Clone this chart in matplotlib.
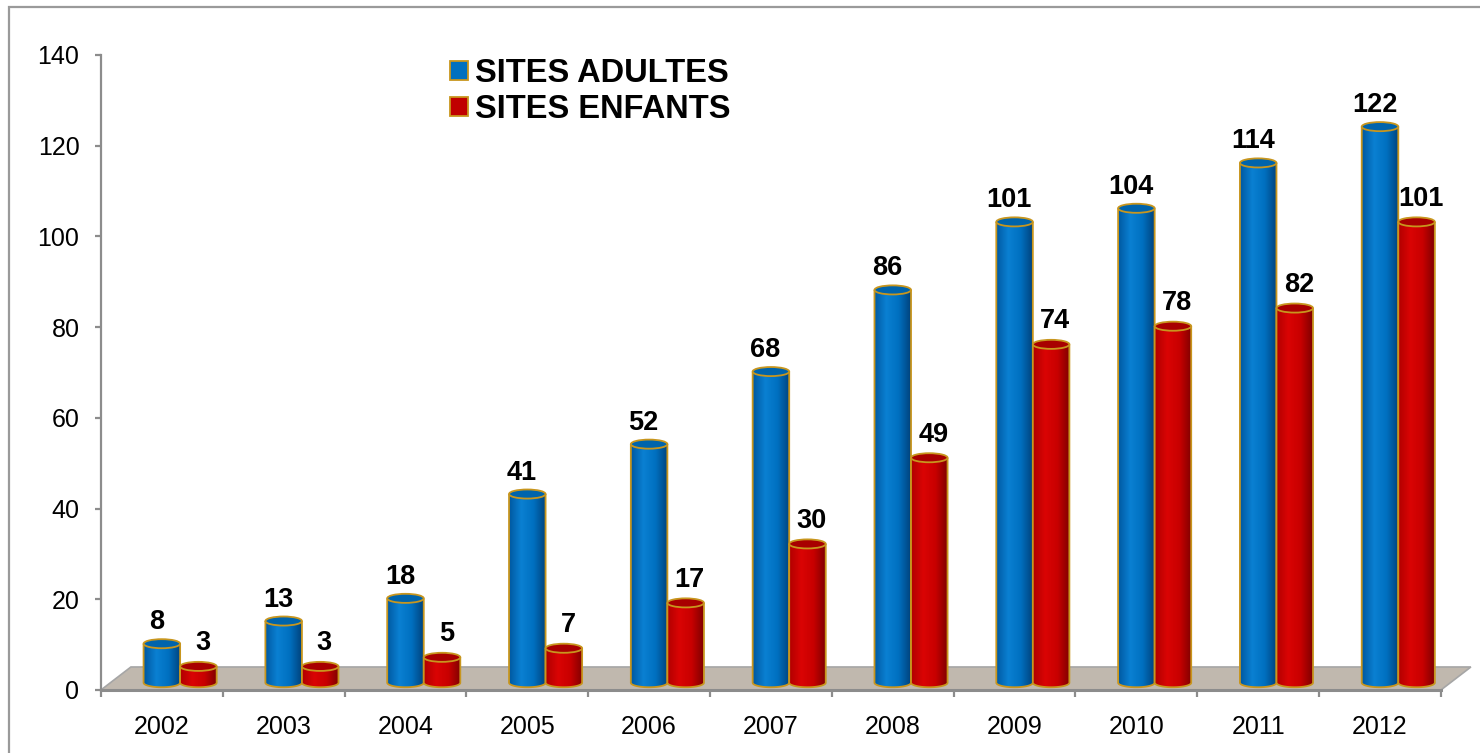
import numpy as np
import matplotlib
matplotlib.use('Agg')
import matplotlib.pyplot as plt
from matplotlib.patches import Ellipse, Polygon, PathPatch, Rectangle, Patch
from matplotlib.path import Path
from matplotlib.colors import LinearSegmentedColormap

plt.rcParams['font.family'] = ['Liberation Sans', 'DejaVu Sans']

years = ['2002', '2003', '2004', '2005', '2006', '2007', '2008', '2009', '2010', '2011', '2012']
adultes = [8, 13, 18, 41, 52, 68, 86, 101, 104, 114, 122]
enfants = [3, 3, 5, 7, 17, 30, 49, 74, 78, 82, 101]

gold = '#C8961E'
grey = '#8C8C8C'
blue_cm = LinearSegmentedColormap.from_list('bl', ['#0058A0', '#0A80D2', '#0070C0', '#00427C'])
red_cm = LinearSegmentedColormap.from_list('rd', ['#B00000', '#DA0404', '#C80000', '#7E0000'])

fig = plt.figure(figsize=(14.8, 7.53), dpi=100)
ax = fig.add_axes([0.0682, 0.0837, 0.9054, 0.8433])

# outer chart frame
fig.patches.append(Rectangle((0.0061, -0.1), 1.2, 1.0907, transform=fig.transFigure,
                             fill=False, edgecolor='#9A9A9A', lw=1.6))

# floor in pseudo 3d
dx, dy = 0.246, 5.07
floor = Polygon([(-0.5, 0), (10.5, 0), (10.5 + dx, dy), (-0.5 + dx, dy)], closed=True,
                facecolor='#C0B8AE', edgecolor='#A6A6A6', lw=1.2, clip_on=False, zorder=1)
ax.add_patch(floor)

w, eh = 0.3, 2.0
base = 1.6


def cylinder(xc, val, cmap, top_color, z):
    top = val + 2.2
    t = np.linspace(np.pi, 2 * np.pi, 60)
    arc = list(zip(xc + w / 2 * np.cos(t), base + eh / 2 * np.sin(t)))
    verts = [(xc - w / 2, top)] + arc + [(xc + w / 2, top)]
    body = Path(verts + [verts[0]], [Path.MOVETO] + [Path.LINETO] * (len(verts) - 1) + [Path.CLOSEPOLY])
    clip = PathPatch(body, transform=ax.transData)
    grad = np.linspace(0, 1, 256).reshape(1, -1)
    im = ax.imshow(grad, cmap=cmap, extent=[xc - w / 2, xc + w / 2, base - eh / 2, top],
                   aspect='auto', zorder=z, interpolation='bilinear')
    im.set_clip_path(clip)
    ax.add_patch(PathPatch(Path(verts), fill=False, edgecolor=gold, lw=1.3, zorder=z + 0.1))
    ax.add_patch(Ellipse((xc, top), w, eh, facecolor=top_color, edgecolor=gold, lw=1.3,
                         zorder=z + 0.2))
    return top


for i in range(len(years)):
    z = 3 + i
    t1 = cylinder(i, adultes[i], blue_cm, '#0064AC', z)
    ax.annotate(str(adultes[i]), (i, t1), xytext=(-4, 15.5), textcoords='offset points',
                ha='center', va='center', fontsize=19.5, fontweight='bold', zorder=20)
    t2 = cylinder(i + 0.3, enfants[i], red_cm, '#A80000', z + 0.5)
    ax.annotate(str(enfants[i]), (i + 0.3, t2), xytext=(3, 16.5), textcoords='offset points',
                ha='center', va='center', fontsize=19.5, fontweight='bold', zorder=20)

ax.set_xlim(-0.5, 10.5)
ax.set_ylim(0, 140)

for s in ['top', 'right']:
    ax.spines[s].set_visible(False)
ax.spines['left'].set_color(grey)
ax.spines['left'].set_linewidth(1.6)
ax.spines['bottom'].set_color(grey)
ax.spines['bottom'].set_linewidth(2.2)
ax.spines['bottom'].set_zorder(2)

ax.set_yticks(np.arange(0, 141, 20))
ax.tick_params(axis='y', direction='out', length=4.5, width=1.6, color=grey,
               labelsize=18, pad=11)
ax.set_xticks(np.arange(-0.5, 11, 1))
ax.set_xticklabels([])
ax.set_xticks(np.arange(11) + 0.0, minor=True)
ax.set_xticklabels(years, minor=True)
ax.tick_params(axis='x', which='major', direction='out', length=5, width=1.6, color=grey)
ax.tick_params(axis='x', which='minor', length=0, labelsize=18, pad=18)

handles = [Patch(facecolor='#0070C0', edgecolor=gold, lw=1.3),
           Patch(facecolor='#C00000', edgecolor=gold, lw=1.3)]
ax.legend(handles, ['SITES ADULTES', 'SITES ENFANTS'], loc='upper left',
          bbox_to_anchor=(0.304, 0.923), bbox_transform=fig.transFigure, frameon=False,
          prop={'size': 23.5, 'weight': 'bold'}, handlelength=0.55, handleheight=0.55,
          handletextpad=0.22, labelspacing=0.16, borderpad=0, borderaxespad=0)

fig.savefig('out.png', dpi=100)
